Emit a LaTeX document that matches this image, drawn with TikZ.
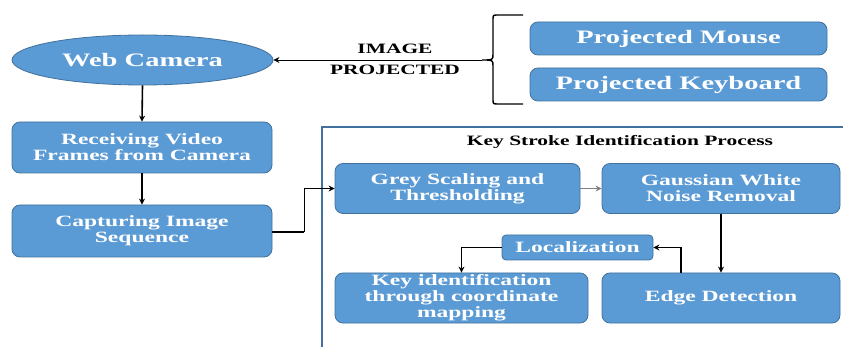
\documentclass[tikz,border=0pt]{standalone}
\usepackage{fontspec}
\setmainfont{Liberation Serif}[FakeStretch=1.5]
\usetikzlibrary{arrows.meta,shapes.geometric}
\definecolor{boxfill}{HTML}{5B9BD5}
\definecolor{boxline}{HTML}{41719C}
\begin{document}
\begin{tikzpicture}[x=1pt,y=-1pt,
  bluebox/.style={draw=boxline,line width=0.8pt,fill=boxfill,rounded corners=8pt,
    text=white,font=\bfseries\fontsize{15.7}{16}\selectfont,align=center,inner sep=0pt},
  bigbox/.style={bluebox,font=\bfseries\fontsize{19}{20}\selectfont},
  arr/.style={-{Stealth[length=6pt,width=6pt]},line width=1.6pt,black},
  thinarr/.style={-{Stealth[length=6pt,width=6pt]},line width=0.9pt,black},
  lbl/.style={font=\bfseries\fontsize{14.3}{15}\selectfont,text=black,inner sep=0pt}]
\useasboundingbox (0,0) rectangle (843,347);
% frame of process
\draw[boxline,line width=1.4pt] (322,347) -- (322,127) -- (845,127);
% nodes
\node[ellipse,draw=boxline,line width=0.8pt,fill=boxfill,text=white,
  font=\bfseries\fontsize{19}{20}\selectfont,minimum width=261pt,minimum height=50pt,inner sep=0pt]
  (cam) at (142.5,60) {Web Camera};
\node[bigbox,minimum width=297pt,minimum height=33pt] (mouse) at (678.5,38.5) {Projected Mouse};
\node[bigbox,minimum width=297pt,minimum height=33pt] (kbd) at (678.5,84.5) {Projected Keyboard};
\node[bluebox,minimum width=260pt,minimum height=51pt] (recv) at (142,147.5) {Receiving Video\\Frames from Camera};
\node[bluebox,minimum width=260pt,minimum height=52pt] (capt) at (142,231) {Capturing Image\\Sequence};
\node[bluebox,minimum width=245pt,minimum height=50pt] (grey) at (457.5,188.5) {Grey Scaling and\\Thresholding};
\node[bluebox,minimum width=238pt,minimum height=50pt] (gauss) at (721,188.5) {Gaussian White\\Noise Removal};
\node[bluebox,minimum width=238pt,minimum height=50pt] (edge) at (721,298) {Edge Detection};
\node[bluebox,minimum width=253pt,minimum height=50pt] (keyid) at (461.5,298) {Key identification\\through coordinate\\mapping};
\node[bluebox,rounded corners=4pt,minimum width=151pt,minimum height=25pt] (loc) at (577.5,247.5) {Localization};
% labels
\node[lbl] (timg) at (395,49) {IMAGE};
\node[lbl] (tproj) at (395,70) {PROJECTED};
\node[lbl] (title) at (620,142) {Key Stroke Identification Process};
% brace
\coordinate (btip) at (482,60);
\draw[line width=1.4pt,black] (523,15) -- (498,15) .. controls (493,15) .. (493,20) -- (493,54)
  .. controls (493,60) .. (btip) .. controls (493,60) .. (493,66) -- (493,99)
  .. controls (493,104) .. (498,104) -- (523,104);
% connectors
\draw[thinarr] (btip) -- (cam.east);
\draw[arr] (cam.south) -- (recv.north);
\draw[arr] (recv.south) -- (capt.north);
\coordinate (cj) at (304,232);
\draw[line width=2.6pt,black] (capt.east |- cj) -- (cj);
\draw[thinarr] (cj) |- (grey.west);
\draw[thinarr,gray] (grey.east) -- (gauss.west);
\draw[arr] (gauss.south) -- (edge.north);
\coordinate (eup) at (681,273);
\draw[arr] (eup) |- (loc.east);
\draw[arr] (loc.west) -| (keyid.north);
\end{tikzpicture}
\end{document}
